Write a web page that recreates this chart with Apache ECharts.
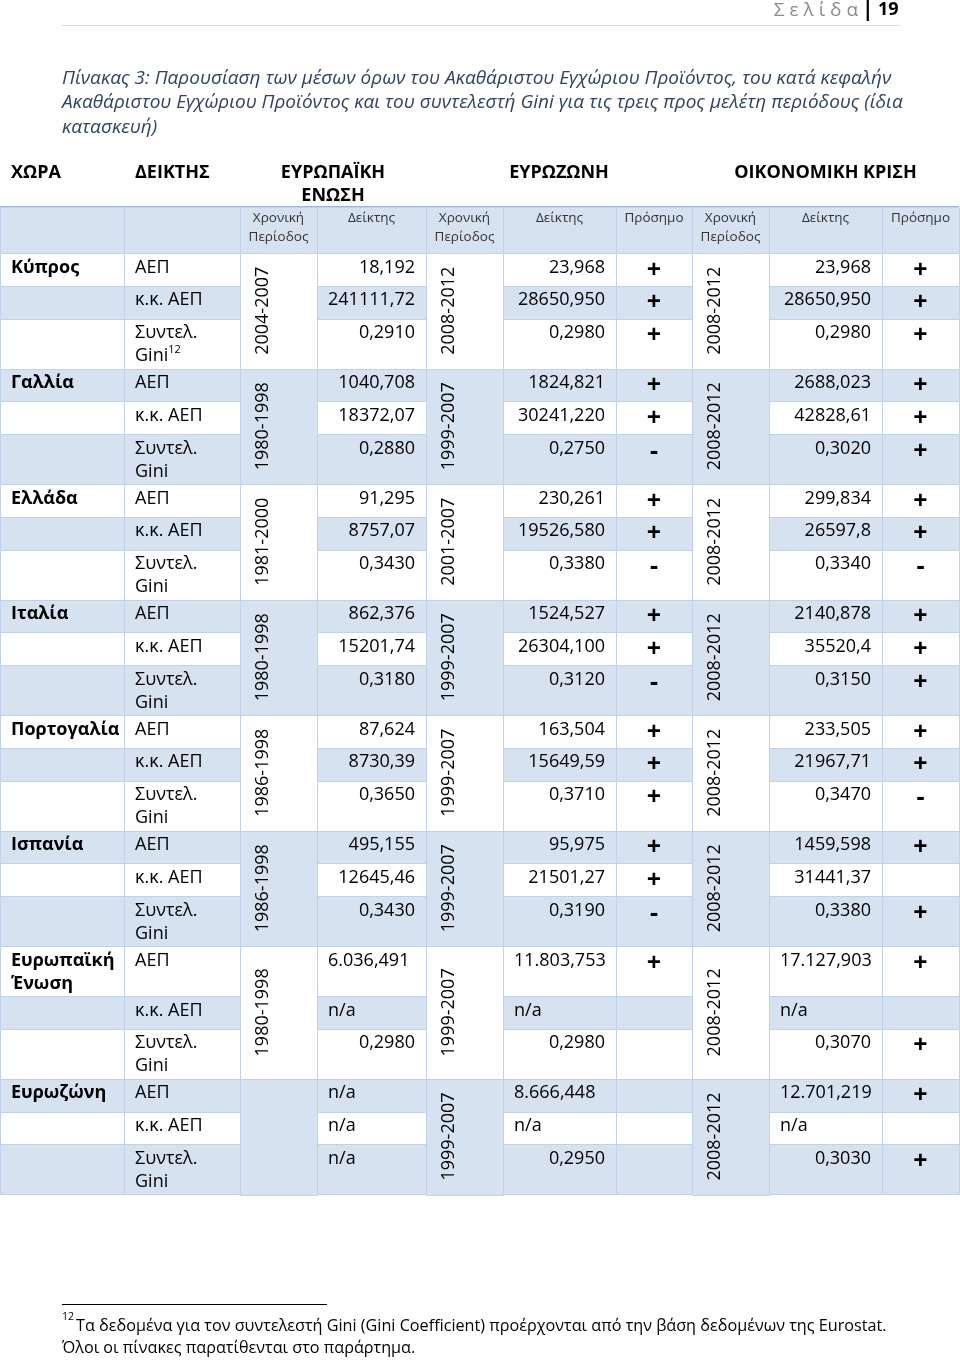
<!DOCTYPE html>
<html>
<head>
<meta charset="utf-8">
<script src="https://cdn.jsdelivr.net/npm/echarts@6/dist/echarts.min.js"></script>
<style>
html,body{margin:0;padding:0;background:#ffffff;}
#chart{width:960px;height:1361px;}
</style>
</head>
<body>
<div id="chart"></div>
<script>
// ---------------- DATA ----------------
const countries = ['Κύπρος', 'Γαλλία', 'Ελλάδα', 'Ιταλία', 'Πορτογαλία', 'Ισπανία', 'Ευρωπαϊκή\nΈνωση', 'Ευρωζώνη'];
const indicators = ['ΑΕΠ', 'κ.κ. ΑΕΠ', 'Συντελ.\nGini'];
const headerLabels = ['ΧΩΡΑ', 'ΔΕΙΚΤΗΣ'];
const groupLabels = ['ΕΥΡΩΠΑΪΚΗ\nΕΝΩΣΗ', 'ΕΥΡΩΖΩΝΗ', 'ΟΙΚΟΝΟΜΙΚΗ ΚΡΙΣΗ'];
const subLabels = ['', '', 'Χρονική\nΠερίοδος', 'Δείκτης', 'Χρονική\nΠερίοδος', 'Δείκτης', 'Πρόσημο', 'Χρονική\nΠερίοδος', 'Δείκτης', 'Πρόσημο'];

const euPeriods = ['2004-2007', '1980-1998', '1981-2000', '1980-1998', '1986-1998', '1986-1998', '1980-1998', ''];
const ezPeriods = ['2008-2012', '1999-2007', '2001-2007', '1999-2007', '1999-2007', '1999-2007', '1999-2007', '1999-2007'];
const crisisPeriods = ['2008-2012', '2008-2012', '2008-2012', '2008-2012', '2008-2012', '2008-2012', '2008-2012', '2008-2012'];

const euValues = [
  ['18,192', '241111,72', '0,2910'],
  ['1040,708', '18372,07', '0,2880'],
  ['91,295', '8757,07', '0,3430'],
  ['862,376', '15201,74', '0,3180'],
  ['87,624', '8730,39', '0,3650'],
  ['495,155', '12645,46', '0,3430'],
  ['6.036,491', 'n/a', '0,2980'],
  ['n/a', 'n/a', 'n/a']
];
const ezValues = [
  ['23,968', '28650,950', '0,2980'],
  ['1824,821', '30241,220', '0,2750'],
  ['230,261', '19526,580', '0,3380'],
  ['1524,527', '26304,100', '0,3120'],
  ['163,504', '15649,59', '0,3710'],
  ['95,975', '21501,27', '0,3190'],
  ['11.803,753', 'n/a', '0,2980'],
  ['8.666,448', 'n/a', '0,2950']
];
const ezSigns = [
  ['+', '+', '+'],
  ['+', '+', '-'],
  ['+', '+', '-'],
  ['+', '+', '-'],
  ['+', '+', '+'],
  ['+', '+', '-'],
  ['+', '', ''],
  ['', '', '']
];
const crisisValues = [
  ['23,968', '28650,950', '0,2980'],
  ['2688,023', '42828,61', '0,3020'],
  ['299,834', '26597,8', '0,3340'],
  ['2140,878', '35520,4', '0,3150'],
  ['233,505', '21967,71', '0,3470'],
  ['1459,598', '31441,37', '0,3380'],
  ['17.127,903', 'n/a', '0,3070'],
  ['12.701,219', 'n/a', '0,3030']
];
const crisisSigns = [
  ['+', '+', '+'],
  ['+', '+', '+'],
  ['+', '+', '-'],
  ['+', '+', '+'],
  ['+', '+', '-'],
  ['+', '', '+'],
  ['+', '', '+'],
  ['+', '', '+']
];
const footnoteMark = '12';

const pageLabel = 'Σ ε λ ί δ α';
const pageNumber = '19';
const captionLines = [
  'Πίνακας 3: Παρουσίαση των μέσων όρων του Ακαθάριστου Εγχώριου Προϊόντος, του κατά κεφαλήν',
  'Ακαθάριστου Εγχώριου Προϊόντος και του συντελεστή Gini για τις τρεις προς μελέτη περιόδους (ίδια',
  'κατασκευή)'
];
const footnoteLines = [
  'Τα δεδομένα για τον συντελεστή Gini (Gini Coefficient) προέρχονται από την βάση δεδομένων της Eurostat.',
  'Όλοι οι πίνακες παρατίθενται στο παράρτημα.'
];

// ---------------- LAYOUT / STYLE ----------------
const FONT = '"Open Sans", "Noto Sans", "DejaVu Sans", sans-serif';
const COLS = [0, 124, 240, 317, 426, 503, 616, 692, 769, 882, 959];
const GROUP_SPANS = [[2, 4], [4, 7], [7, 10]];
const SHADE = '#d7e2f1';
const WHITE = '#ffffff';
const LINE = '#c0d1e8';
const PAD = 11;
const ROW1 = 32.75, ROW2 = 50;
const H1_TOP = 158, BAND_TOP = 207, BAND_BOT = 253;

const isRightNumber = v => /^\d+,\d+$/.test(v);

const cells = [];
function push(c0, c1, y0, y1, o) {
  cells.push(Object.assign({ x0: COLS[c0], x1: COLS[c1], y0: y0, y1: y1 }, o));
}

headerLabels.forEach((t, i) => push(i, i + 1, H1_TOP, BAND_TOP, { text: t, align: 'left', bold: true }));
groupLabels.forEach((t, i) => push(GROUP_SPANS[i][0], GROUP_SPANS[i][1], H1_TOP, BAND_TOP, { text: t, align: 'center', bold: true }));
subLabels.forEach((t, i) => push(i, i + 1, BAND_TOP, BAND_BOT, {
  text: t, align: 'center', fill: SHADE, size: 13.5, lh: 19, padTop: 2, color: '#333333'
}));

let yCur = BAND_BOT, g = 0;
countries.forEach((country, b) => {
  const blockTop = yCur;
  const blockFill = g % 2 === 1 ? SHADE : WHITE;
  indicators.forEach((ind, r) => {
    const lines = Math.max(ind.split('\n').length, r === 0 ? country.split('\n').length : 1);
    const h = lines > 1 ? ROW2 : ROW1;
    const fill = g % 2 === 1 ? SHADE : WHITE;
    const y0 = yCur, y1 = yCur + h;
    push(0, 1, y0, y1, { text: r === 0 ? country : '', align: 'left', bold: true, fill });
    push(1, 2, y0, y1, { text: ind, align: 'left', fill, note: (b === 0 && r === 2) ? footnoteMark : null });
    const ev = euValues[b][r], zv = ezValues[b][r], cv = crisisValues[b][r];
    push(3, 4, y0, y1, { text: ev, align: isRightNumber(ev) ? 'right' : 'left', fill });
    push(5, 6, y0, y1, { text: zv, align: isRightNumber(zv) ? 'right' : 'left', fill });
    push(6, 7, y0, y1, { text: ezSigns[b][r], align: 'center', bold: true, sign: true, fill });
    push(8, 9, y0, y1, { text: cv, align: isRightNumber(cv) ? 'right' : 'left', fill });
    push(9, 10, y0, y1, { text: crisisSigns[b][r], align: 'center', bold: true, sign: true, fill });
    yCur = y1; g++;
  });
  [[2, euPeriods], [4, ezPeriods], [7, crisisPeriods]].forEach(([c, arr]) =>
    push(c, c + 1, blockTop, yCur, { text: arr[b], vertical: true, fill: blockFill }));
});

function renderItem(params, api) {
  const c = cells[params.dataIndex];
  const p0 = api.coord([c.x0, c.y0]);
  const p1 = api.coord([c.x1, c.y1]);
  const children = [];
  if (c.fill) {
    children.push({
      type: 'rect',
      shape: { x: Math.round(p0[0]) + 0.5, y: Math.round(p0[1]) + 0.5, width: Math.round(p1[0] - p0[0]), height: Math.round(p1[1] - p0[1]) },
      style: { fill: c.fill, stroke: LINE, lineWidth: 1 }
    });
  }
  if (c.text) {
    const size = c.sign ? 25 : (c.size || 18);
    const lh = c.lh || 23;
    let x, y, rotation = 0, align = c.align, va = 'top';
    if (c.vertical) {
      x = p0[0] + 23; y = (p0[1] + p1[1]) / 2; rotation = Math.PI / 2; align = 'center'; va = 'middle';
    } else {
      x = align === 'left' ? p0[0] + PAD : align === 'right' ? p1[0] - PAD : (p0[0] + p1[0]) / 2;
      y = p0[1] + (c.padTop != null ? c.padTop : 3) + (c.sign ? 3 : 0);
    }
    const style = {
      text: c.text,
      fill: c.color || '#000000',
      fontFamily: FONT,
      fontSize: size,
      fontWeight: c.bold ? 'bold' : 'normal',
      align: align,
      verticalAlign: va,
      lineHeight: lh
    };
    if (c.note) {
      const parts = c.text.split('\n');
      style.text = parts.map((p, i) => i === parts.length - 1 ? '{t|' + p + '}{s|' + c.note + '}' : '{t|' + p + '}').join('\n');
      style.rich = {
        t: { fontFamily: FONT, fontSize: size, lineHeight: lh, fill: '#000' },
        s: { fontFamily: FONT, fontSize: 11, lineHeight: 12, verticalAlign: 'top', fill: '#000' }
      };
    }
    children.push({ type: 'text', x: x, y: y, rotation: rotation, style: style });
  }
  return { type: 'group', children: children };
}

const chart = echarts.init(document.getElementById('chart'), null, { renderer: 'canvas' });
chart.setOption({
  backgroundColor: '#ffffff',
  animation: false,
  grid: { left: 0, right: 0, top: 0, bottom: 0 },
  xAxis: { type: 'value', min: 0, max: 960, show: false },
  yAxis: { type: 'value', min: 0, max: 1361, inverse: true, show: false },
  series: [{
    type: 'custom',
    silent: true,
    clip: false,
    renderItem: renderItem,
    data: cells.map((c, i) => [c.x0, c.y0, i])
  }],
  graphic: [
    { type: 'text', right: 102, top: 1, style: { text: pageLabel, fill: '#8a8a8a', fontFamily: FONT, fontSize: 19 } },
    { type: 'text', left: 862, top: 0, style: { text: '|', fill: '#000', fontFamily: FONT, fontSize: 21, fontWeight: 'bold' } },
    { type: 'text', left: 878, top: 1, style: { text: pageNumber, fill: '#000', fontFamily: FONT, fontSize: 18, fontWeight: 'bold' } },
    { type: 'line', shape: { x1: 62, y1: 25.5, x2: 900, y2: 25.5 }, style: { stroke: '#d9d9d9', lineWidth: 1 } },
    { type: 'text', left: 62, top: 66, style: { text: captionLines.join('\n'), fill: '#2f4260', fontFamily: FONT, fontSize: 19, fontStyle: 'italic', lineHeight: 24.5 } },
    { type: 'line', shape: { x1: 0, y1: BAND_TOP, x2: 959, y2: BAND_TOP }, style: { stroke: '#9db8dc', lineWidth: 2 } },
    { type: 'line', shape: { x1: 62, y1: 1304.5, x2: 327, y2: 1304.5 }, style: { stroke: '#000', lineWidth: 1 } },
    { type: 'text', left: 62, top: 1312, style: { text: footnoteMark, fill: '#000', fontFamily: FONT, fontSize: 10.5 } },
    { type: 'text', left: 76, top: 1315, style: { text: footnoteLines[0], fill: '#000', fontFamily: FONT, fontSize: 16.2, lineHeight: 22 } },
    { type: 'text', left: 62, top: 1337, style: { text: footnoteLines[1], fill: '#000', fontFamily: FONT, fontSize: 16.2, lineHeight: 22 } }
  ]
});
</script>
</body>
</html>
